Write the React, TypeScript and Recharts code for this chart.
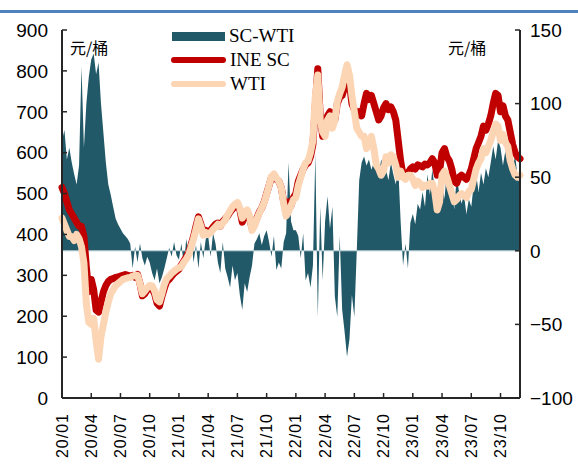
import { ComposedChart, Area, Line, XAxis, YAxis, Legend, ReferenceLine } from 'recharts';

/**
 * SC-WTI spread chart
 * INE SC and WTI in 元/桶 (left axis), spread as area (right axis)
 */

// quarter ticks along the month axis (0 = 2020/01)
const tickLabels = [
  '20/01', '20/04', '20/07', '20/10',
  '21/01', '21/04', '21/07', '21/10',
  '22/01', '22/04', '22/07', '22/10',
  '23/01', '23/04', '23/07', '23/10',
];
const quarterTicks = [0, 3, 6, 9, 12, 15, 18, 21, 24, 27, 30, 33, 36, 39, 42, 45];
const leftTicks = [0, 100, 200, 300, 400, 500, 600, 700, 800, 900];
const rightTicks = [-100, -50, 0, 50, 100, 150];

// weekly points, four per month, Jan 2020 to early Dec 2023
const sc = [
  // 2020
  515, 500, 480, 460,
  450, 440, 430, 420,
  420, 395, 320, 260,
  290, 265, 215, 210,
  235, 260, 275, 285,
  290, 292, 295, 296,
  298, 300, 302, 300,
  298, 300, 295, 302,
  280, 250, 255, 265,
  270, 268, 255, 232,
  225, 248, 268, 285,
  290, 298, 305, 310,
  // 2021
  315, 325, 335, 345,
  355, 375, 395, 420,
  443, 425, 405, 410,
  405, 410, 418, 425,
  428, 420, 432, 438,
  445, 455, 462, 470,
  475, 460, 430, 445,
  455, 440, 415, 425,
  440, 455, 465, 480,
  500, 520, 540, 545,
  535, 530, 515, 480,
  460, 480, 470, 490,
  // 2022
  500, 530, 545, 560,
  570, 575, 590, 620,
  720, 805, 690, 640,
  660, 690, 700, 670,
  680, 720, 735, 740,
  760, 780, 770, 720,
  705, 690, 700, 690,
  720, 745, 730, 740,
  720, 700, 680, 690,
  710, 720, 705, 712,
  700, 680, 630, 580,
  545, 540, 550, 560,
  // 2023
  565, 560, 570, 568,
  565, 572, 570, 575,
  585, 575, 545, 555,
  600, 610, 590, 580,
  560, 530, 525, 540,
  545, 540, 535, 545,
  560, 585, 610, 625,
  640, 665, 655, 670,
  690, 720, 745, 740,
  700, 715, 690, 680,
  650, 620, 600, 590,
  585,
];

const wti = [
  // 2020
  440, 425, 410, 395,
  395, 385, 400, 390,
  370, 330, 230, 185,
  180, 195, 140, 95,
  150, 180, 210, 235,
  255, 265, 275, 280,
  285, 290, 292, 294,
  295, 298, 300, 300,
  280, 255, 262, 270,
  275, 274, 262, 240,
  235, 255, 278, 292,
  298, 305, 310, 315,
  // 2021
  318, 322, 332, 340,
  350, 370, 390, 412,
  438, 420, 398, 405,
  400, 405, 412, 418,
  425, 420, 428, 435,
  448, 458, 468, 474,
  478, 465, 440, 455,
  460, 445, 410, 420,
  438, 452, 465, 478,
  498, 520, 542, 548,
  538, 530, 515, 475,
  445, 455, 470, 485,
  // 2022
  490, 520, 540, 560,
  575, 580, 600, 630,
  740, 790, 680, 650,
  640, 680, 690, 660,
  680, 725, 745, 760,
  790, 815, 790, 740,
  700, 660, 650, 640,
  640, 610, 620, 640,
  610, 570, 560, 545,
  555, 590, 575, 595,
  590, 570, 540, 555,
  540, 535, 545, 545,
  // 2023
  535, 520, 530, 525,
  515, 520, 518, 525,
  525, 505, 460, 480,
  545, 555, 540, 520,
  500, 480, 485, 495,
  500, 495, 490, 505,
  510, 535, 560, 575,
  585, 610, 600, 615,
  630, 650, 670, 665,
  630, 645, 625, 615,
  580, 560, 545, 540,
  545,
];

const spread = [
  // 2020
  75, 82, 62, 70,
  60, 52, 45, 58,
  125, 70, 100, 118,
  130, 134, 120, 128,
  100, 80, 60, 45,
  38, 30, 22, 18,
  15, 12, 10, 8,
  5, -12, 3, -8,
  5, -5, -10, -4,
  -8, -15, -20, -12,
  -22, -18, -12, -5,
  2, -4, 6, -3,
  // 2021
  -6, 5, -10, 8,
  -3, 10, -8, 4,
  -12, 6, -5, 8,
  10, -4, 12, 5,
  -8, -15, 6, -12,
  -18, -25, -10, -20,
  -15, -30, -40, -22,
  -28, -18, -10, 5,
  8, 12, 4, 10,
  14, 6, -4, 10,
  -13, -8, -12, 6,
  12, 60, 20, 14,
  // 2022
  14, 10, -5, 12,
  -20, -15, -25, -10,
  66, -45, 30, -20,
  20, 37, 15, 30,
  -31, -45, 10, -40,
  -55, -72, -60, -30,
  -45, 0, 48, 60,
  64, 58, 62, 55,
  60, 64, 50, 62,
  58, 55, 48, 60,
  52, 45, 58, 20,
  -10, 5, -12, 19,
  // 2023
  25, 18, 32, 28,
  40, 30, 52, 38,
  55, 42, 30, 48,
  50, 35, 55, 44,
  46, 28, 50, 40,
  32, 38, 25, 35,
  30, 45, 52, 40,
  53, 45, 56, 50,
  60, 71, 62, 75,
  70, 58, 68, 60,
  62, 55, 65, 50,
  45,
];

const legendItems = [
  { name: 'SC-WTI', color: '#215968', kind: 'rect' },
  { name: 'INE SC', color: '#c00000', kind: 'line' },
  { name: 'WTI', color: '#fcd5b5', kind: 'line' },
];

const unitLabel = '元/桶';

const sansFont = '"Liberation Sans", Arial, sans-serif';
const serifFont = '"Liberation Serif", "Times New Roman", serif';
const cjkFont = '"Noto Sans CJK SC", sans-serif';

const chartData = sc.map((v, i) => ({
  m: i / 4,
  sc: v,
  wti: wti[i],
  spread: spread[i],
}));

const XTick = ({ x, y, payload }: any) => (
  <text
    x={x}
    y={y}
    transform={`rotate(-90 ${x} ${y})`}
    textAnchor="end"
    dominantBaseline="central"
    fontSize={16}
    letterSpacing={1}
    fontFamily={sansFont}
    fill="#000"
  >
    {tickLabels[quarterTicks.indexOf(payload.value)]}
  </text>
);

const renderLegend = () => (
  <div style={{ fontFamily: serifFont, fontSize: 19, color: '#000' }}>
    {legendItems.map((item) => (
      <div key={item.name} style={{ display: 'flex', alignItems: 'center', height: 24 }}>
        {item.kind === 'rect' ? (
          <div style={{ width: 53, height: 9, background: item.color, marginLeft: 1 }} />
        ) : (
          <div style={{ width: 55, height: 6, borderRadius: 3, background: item.color }} />
        )}
        <span style={{ marginLeft: 4 }}>{item.name}</span>
      </div>
    ))}
  </div>
);

export default function App() {
  return (
    <div style={{ position: 'absolute', left: 0, top: 0, width: 578, height: 468, background: '#fff' }}>
      <div style={{ position: 'absolute', left: 0, top: 10, width: 578, height: 3, background: '#4f81bd' }} />
      <ComposedChart
        width={578}
        height={468}
        data={chartData}
        margin={{ top: 30, right: 0, left: 0, bottom: 0 }}
      >
        <XAxis
          dataKey="m"
          type="number"
          domain={[0, 47]}
          ticks={quarterTicks}
          interval={0}
          height={70}
          tickSize={-5}
          tickMargin={20}
          tick={<XTick />}
          axisLine={{ stroke: '#262626', strokeWidth: 2 }}
          tickLine={{ stroke: '#262626', strokeWidth: 1.5 }}
        />
        <YAxis
          yAxisId="left"
          orientation="left"
          domain={[0, 900]}
          ticks={leftTicks}
          interval={0}
          width={62}
          tickSize={-5}
          tickMargin={19}
          axisLine={{ stroke: '#262626', strokeWidth: 2 }}
          tickLine={{ stroke: '#262626', strokeWidth: 1.5 }}
          tick={{ fontSize: 19, fill: '#000', fontFamily: sansFont }}
        />
        <YAxis
          yAxisId="right"
          orientation="right"
          domain={[-100, 150]}
          ticks={rightTicks}
          interval={0}
          width={58}
          tickSize={-5}
          tickMargin={15}
          axisLine={{ stroke: '#262626', strokeWidth: 2 }}
          tickLine={{ stroke: '#262626', strokeWidth: 1.5 }}
          tick={{ fontSize: 19, fill: '#000', fontFamily: sansFont }}
          tickFormatter={(v: number) => (v < 0 ? `\u2212${Math.abs(v)}` : `${v}`)}
        />
        <Legend
          content={renderLegend}
          layout="horizontal"
          verticalAlign="middle"
          align="center"
          wrapperStyle={{ position: 'absolute', left: 171, top: 24, width: 'auto' }}
        />
        <Area
          yAxisId="right"
          dataKey="spread"
          name="SC-WTI"
          type="linear"
          baseValue={0}
          fill="#215968"
          fillOpacity={1}
          stroke="none"
          isAnimationActive={false}
        />
        <ReferenceLine yAxisId="right" y={0} stroke="#b9cdd3" strokeWidth={1} />
        <Line
          yAxisId="left"
          dataKey="sc"
          name="INE SC"
          type="linear"
          stroke="#c00000"
          strokeWidth={7}
          strokeLinejoin="round"
          strokeLinecap="round"
          dot={false}
          isAnimationActive={false}
        />
        <Line
          yAxisId="left"
          dataKey="wti"
          name="WTI"
          type="linear"
          stroke="#fcd5b5"
          strokeWidth={7}
          strokeLinejoin="round"
          strokeLinecap="round"
          dot={false}
          isAnimationActive={false}
        />
      </ComposedChart>
      <div style={{ position: 'absolute', left: 70, top: 35, fontFamily: cjkFont, fontSize: 16, color: '#000' }}>
        {unitLabel}
      </div>
      <div style={{ position: 'absolute', left: 448, top: 35, fontFamily: cjkFont, fontSize: 16, color: '#000' }}>
        {unitLabel}
      </div>
    </div>
  );
}
